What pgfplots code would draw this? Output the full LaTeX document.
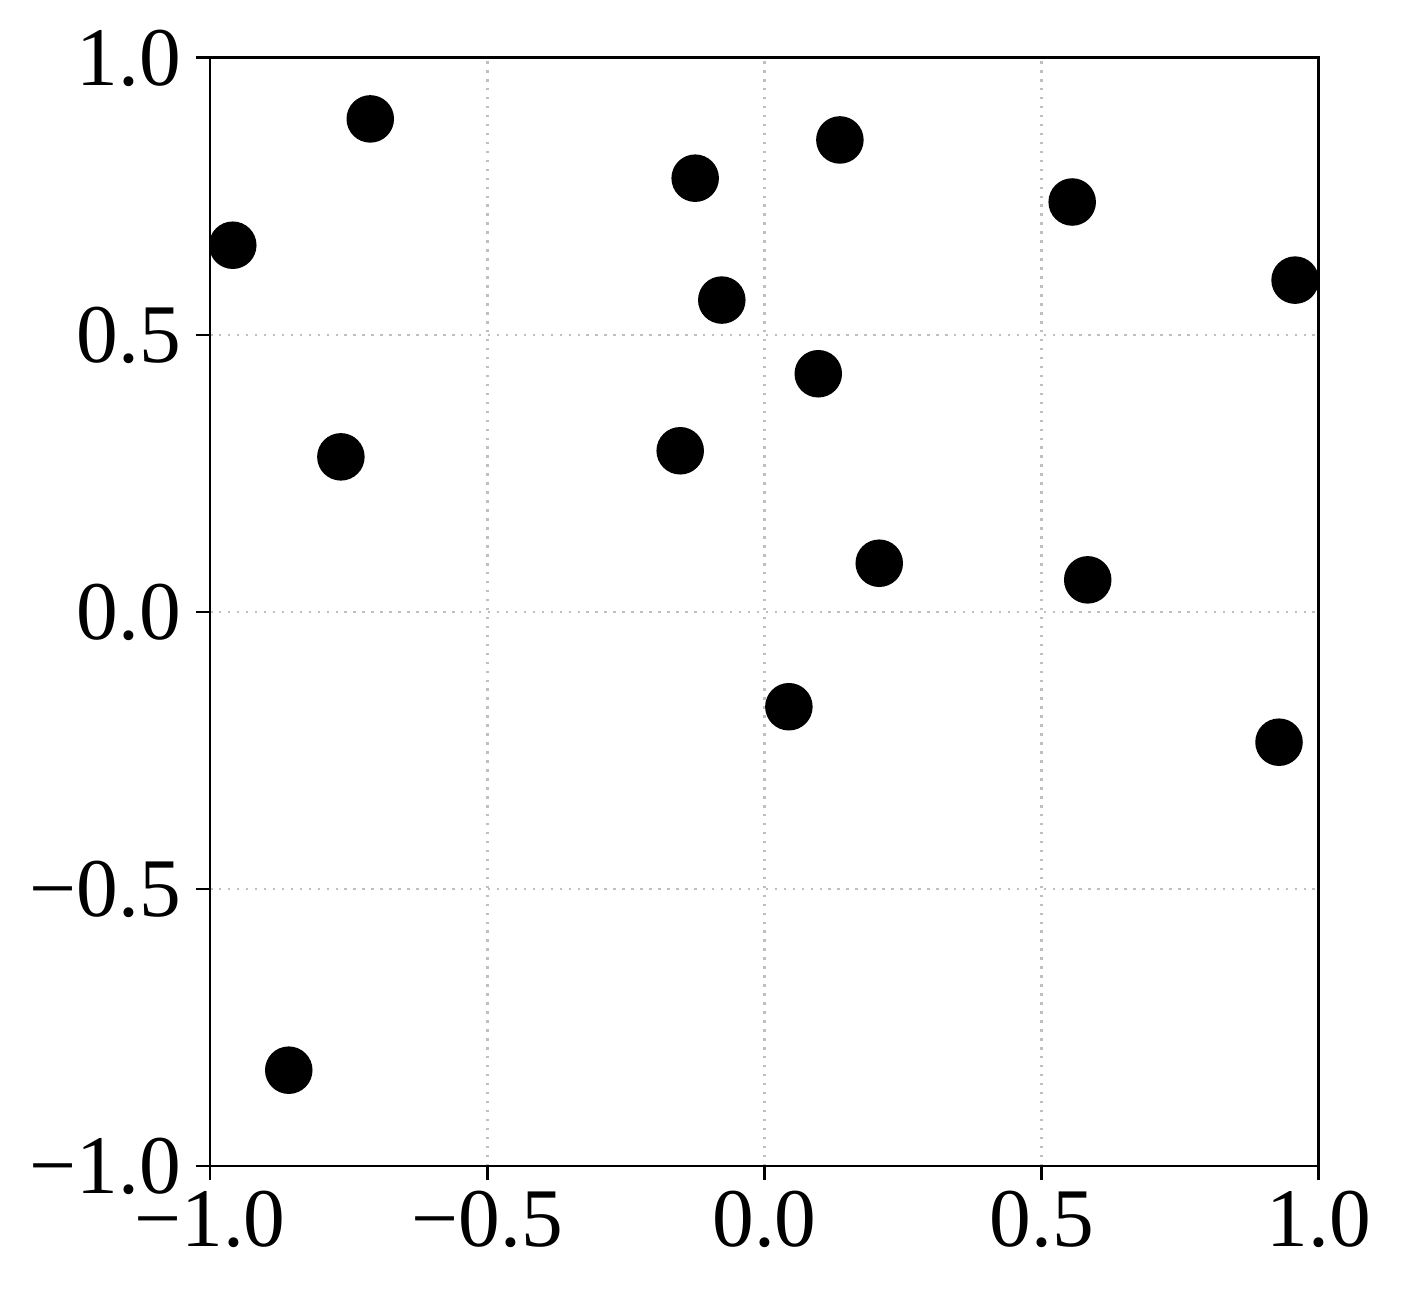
\documentclass[border=0pt]{standalone}
\usepackage{fontspec}
\setmainfont{Liberation Serif}
\usepackage{pgfplots}
\pgfplotsset{compat=1.18}
\begin{document}
\begin{tikzpicture}
\begin{axis}[
  scale only axis, width=266pt, height=265.8pt,
  xmin=-1, xmax=1, ymin=-1, ymax=1,
  xtick={-1,-0.5,0,0.5,1}, ytick={-1,-0.5,0,0.5,1},
  xticklabels={−1.0,−0.5,0.0,0.5,1.0},
  yticklabels={−1.0,−0.5,0.0,0.5,1.0},
  xtick pos=left, ytick pos=left, tick align=outside,
  major tick length=3.4pt,
  every tick/.style={black, line width=0.7pt},
  axis line style={line width=0.7pt},
  grid=major,
  grid style={line width=0.6pt, color=black!25, dash pattern=on 0.6pt off 1.55pt},
  tick label style={font=\fontsize{20}{24}\selectfont},
  xticklabel style={yshift=1pt},
  clip=false,
]
% invisible frame to keep the page size of the reference
\path (rel axis cs:-0.1894,-0.1218) rectangle (rel axis cs:1.074,1.0523);
\addplot[only marks, mark=*, mark size=5.5pt, black] coordinates {
  (-0.711,0.890) (-0.959,0.662) (-0.125,0.783) (0.136,0.852)
  (0.555,0.740) (0.957,0.599) (-0.077,0.563) (0.097,0.430)
  (-0.764,0.280) (-0.152,0.291) (0.207,0.088) (0.583,0.058)
  (0.044,-0.171) (0.928,-0.235) (-0.858,-0.827)
};
\end{axis}
\end{tikzpicture}
\end{document}
